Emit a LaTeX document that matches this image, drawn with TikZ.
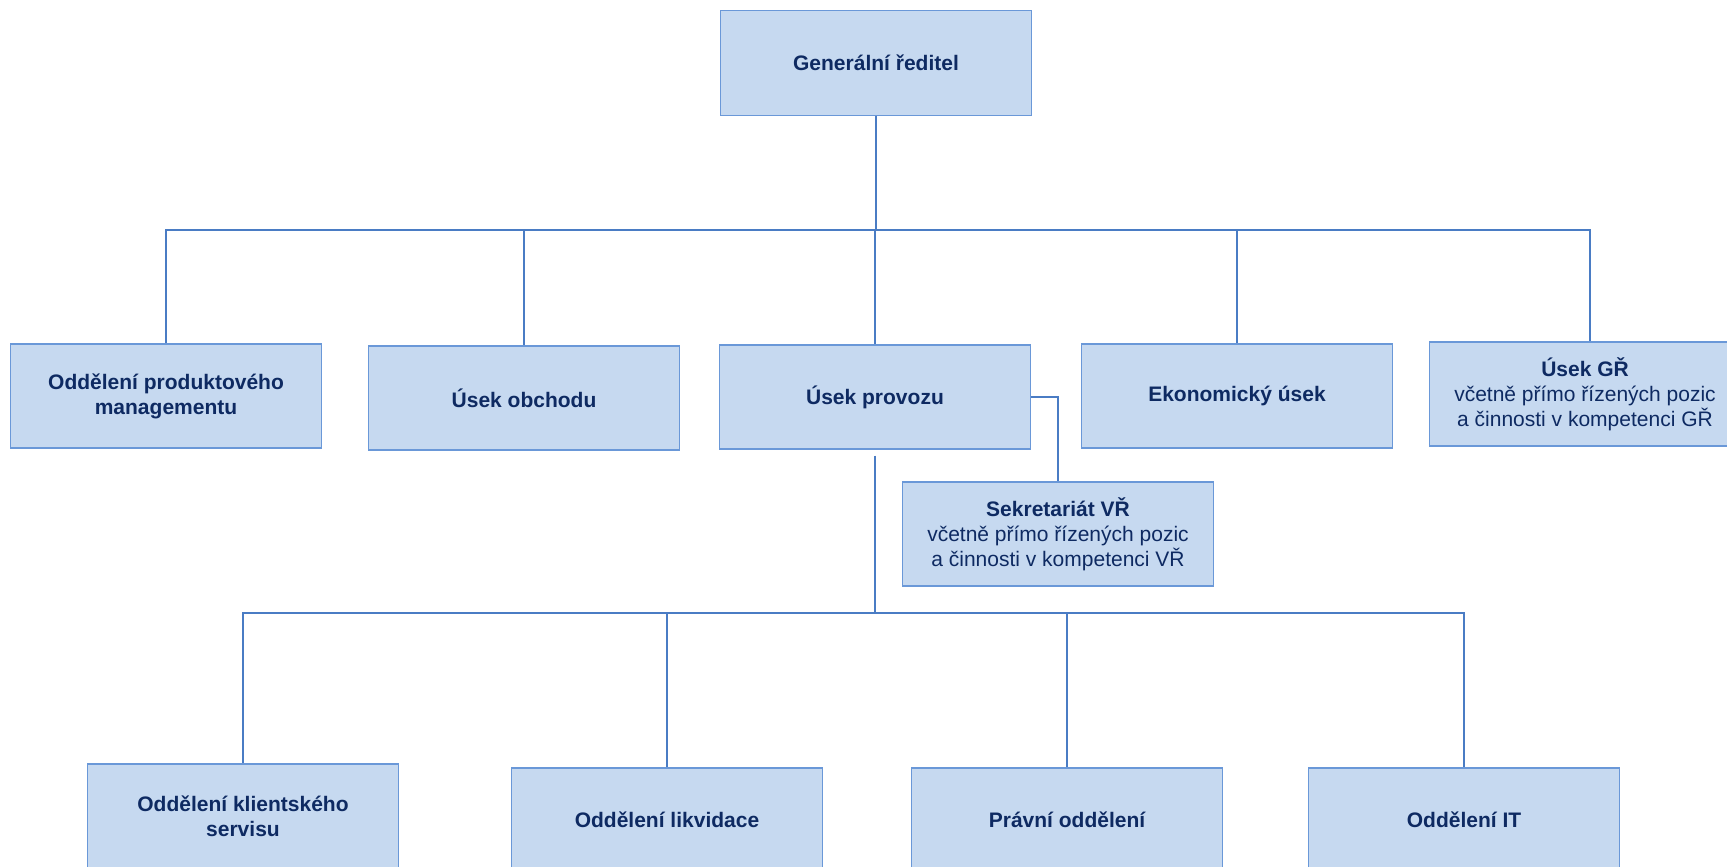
\documentclass[tikz,border=0pt]{standalone}
\usepackage{fontspec}
\setmainfont{Liberation Sans}
\usepackage{tikz}
\definecolor{boxfill}{HTML}{C6D9F0}
\definecolor{boxedge}{HTML}{6A98D8}
\definecolor{linkblue}{HTML}{4A7CC4}
\definecolor{textnavy}{HTML}{0E2A62}
\tikzset{
  unit/.style={draw=boxedge,line width=1.2bp,fill=boxfill,text=textnavy,
    minimum width=311bp,minimum height=104bp,align=center,inner sep=2bp,
    font=\fontsize{21bp}{25bp}\selectfont\bfseries},
  link/.style={draw=linkblue,line width=1.6bp}
}

\begin{document}
\begin{tikzpicture}

\useasboundingbox (0bp,0bp) rectangle (1727bp,-867bp);
\clip (0bp,0bp) rectangle (1727bp,-867bp);

\node (GR) at (876bp,-63bp)[unit,minimum height=105bp] {Generální ředitel};
\node (OPM) at (166bp,-396bp)[unit] {Oddělení produktového\\managementu};
\node (UO) at (524bp,-398bp)[unit] {Úsek obchodu};
\node (UP) at (875bp,-397bp)[unit] {Úsek provozu};
\node (EU) at (1237bp,-396bp)[unit] {Ekonomický úsek};
\node (UGR) at (1585bp,-394bp)[unit] {Úsek GŘ\\{\mdseries včetně přímo řízených pozic}\\{\mdseries a činnosti v kompetenci GŘ}};
\node (SVR) at (1058bp,-534bp)[unit] {Sekretariát VŘ\\{\mdseries včetně přímo řízených pozic}\\{\mdseries a činnosti v kompetenci VŘ}};
\node (OKS) at (243bp,-816bp)[unit] {Oddělení klientského\\servisu};
\node (OL) at (667bp,-820bp)[unit] {Oddělení likvidace};
\node (PO) at (1067bp,-820bp)[unit] {Právní oddělení};
\node (OIT) at (1464bp,-820bp)[unit] {Oddělení IT};

\coordinate (busGR) at (876bp,-230bp);
\coordinate (busUP) at (875bp,-613bp);

\draw [link] (GR) -- (busGR);
\draw [link] (busGR) -| (OPM);
\draw [link] (busGR) -| (UO);
\draw [link] (busGR) -| (UP);
\draw [link] (busGR) -| (EU);
\draw [link] (busGR) -| ([xshift=5bp]UGR.north);
\draw [link] (UP.east) -| (SVR);
\draw [link,shorten <=6bp] (UP) -- (busUP);
\draw [link] (busUP) -| (OKS);
\draw [link] (busUP) -| (OL);
\draw [link] (busUP) -| (PO);
\draw [link] (busUP) -| (OIT);
\end{tikzpicture}
\end{document}
